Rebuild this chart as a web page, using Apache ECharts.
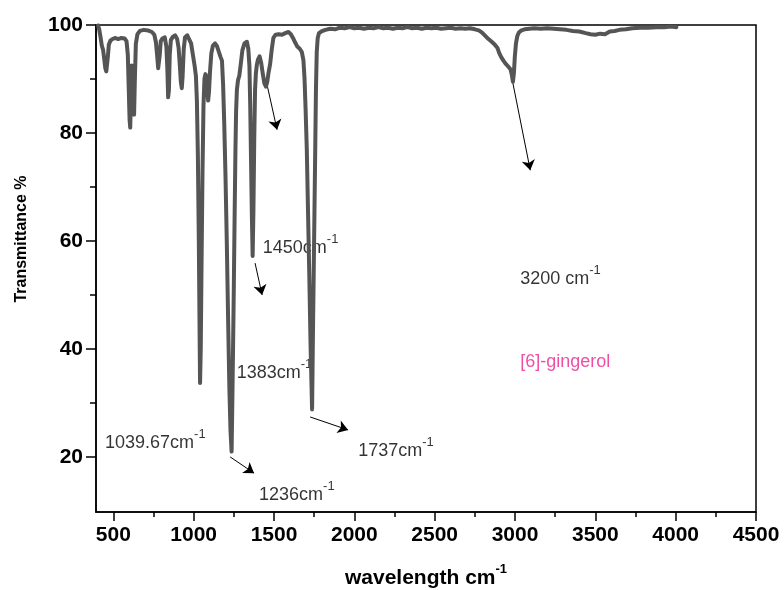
<!DOCTYPE html>
<html>
<head>
<meta charset="utf-8">
<script src="https://cdn.jsdelivr.net/npm/echarts@6/dist/echarts.min.js"></script>
<style>
  html, body { margin: 0; padding: 0; background: #ffffff; }
  #chart { width: 784px; height: 590px; }
</style>
</head>
<body>
<div id="chart"></div>
<script>
// FTIR spectrum of [6]-gingerol: wavenumber (cm-1) and transmittance (%)
const wavenumber = [
  405, 412, 420, 428, 436, 444, 450, 456, 461, 466, 472, 482, 495, 510, 530, 550, 570, 582, 590, 596,
  601, 605, 609, 614, 619, 624, 629, 634, 640, 650, 665, 690, 715, 740, 755, 765, 773, 779, 784, 789,
  795, 805, 820, 830, 836, 841, 846, 851, 858, 870, 884, 897, 906, 914, 920, 926, 931, 938, 946, 960,
  972, 984, 995, 1006, 1014, 1020, 1026, 1032, 1036, 1039.67, 1044, 1049, 1055, 1061, 1067, 1073, 1079, 1084, 1090, 1095,
  1102, 1110, 1120, 1133, 1145, 1157, 1167, 1176, 1183, 1190, 1198, 1206, 1214, 1222, 1229, 1236, 1240, 1245, 1250, 1255,
  1260, 1264, 1269, 1276, 1284, 1292, 1303, 1316, 1331, 1340, 1347, 1352, 1357, 1362, 1367, 1372, 1377, 1382, 1387, 1393,
  1400, 1410, 1420, 1430, 1440, 1450, 1458, 1466, 1476, 1486, 1496, 1510, 1530, 1550, 1570, 1590, 1605, 1618, 1631, 1645,
  1660, 1673, 1683, 1690, 1697, 1704, 1712, 1720, 1728, 1737, 1742, 1747, 1752, 1757, 1761, 1766, 1772, 1780, 1795, 1820,
  1850, 1880, 1910, 1940, 1970, 2000, 2030, 2060, 2090, 2120, 2150, 2180, 2210, 2240, 2270, 2300, 2330, 2360, 2390, 2420,
  2450, 2480, 2510, 2540, 2570, 2600, 2630, 2660, 2690, 2720, 2750, 2775, 2795, 2815, 2835, 2855, 2870, 2882, 2890, 2902,
  2915, 2928, 2940, 2952, 2963, 2972, 2980, 2987, 2993, 2999, 3006, 3014, 3024, 3040, 3060, 3090, 3120, 3160, 3200, 3240,
  3280, 3320, 3360, 3400, 3440, 3470, 3500, 3530, 3560, 3590, 3620, 3650, 3690, 3730, 3780, 3830, 3880, 3930, 3970, 4005
];
const transmittance = [
  99.9, 99.2, 97.8, 96.2, 95.4, 93.5, 92.0, 91.4, 91.6, 94.2, 96.4, 97.1, 97.4, 97.6, 97.4, 97.6, 97.5, 97.0, 94.5, 88.0,
  82.5, 81.0, 86.0, 92.5, 91.0, 86.0, 83.4, 90.0, 96.5, 98.3, 98.9, 99.1, 99.0, 98.7, 98.2, 96.8, 94.2, 92.0, 91.8, 94.5,
  97.0, 97.5, 97.7, 96.0, 92.0, 86.6, 88.0, 94.5, 97.2, 97.8, 98.1, 97.4, 95.8, 92.5, 89.5, 88.3, 90.5, 95.5, 97.7, 98.1,
  97.9, 96.6, 94.5, 92.4, 90.5, 86.0, 76.0, 60.0, 46.0, 33.7, 40.0, 56.0, 73.0, 85.0, 90.0, 90.9, 90.5, 88.4, 86.0, 87.5,
  91.5, 94.8, 96.2, 96.6, 96.1, 95.0, 94.1, 93.4, 89.0, 82.0, 72.0, 60.0, 46.0, 33.0, 25.0, 21.0, 29.0, 40.0, 52.0, 65.0,
  77.0, 84.0, 88.0, 89.8, 90.6, 92.5, 95.3, 96.6, 96.9, 95.6, 92.4, 85.0, 75.0, 65.0, 57.2, 66.0, 79.0, 88.0, 91.0, 92.6,
  93.6, 94.2, 93.0, 91.0, 89.2, 88.6, 89.5, 91.2, 92.8, 95.5, 97.6, 98.2, 98.3, 98.2, 98.5, 98.7, 98.3, 97.6, 96.8, 96.0,
  95.6, 95.0, 93.5, 90.0, 84.0, 77.0, 65.0, 53.0, 40.0, 28.8, 42.0, 54.0, 66.0, 78.0, 88.0, 95.0, 97.6, 98.5, 98.8, 99.1,
  99.3, 99.2, 99.5, 99.4, 99.6, 99.4, 99.5, 99.3, 99.5, 99.4, 99.6, 99.4, 99.5, 99.3, 99.5, 99.4, 99.6, 99.4, 99.5, 99.3,
  99.5, 99.4, 99.5, 99.3, 99.4, 99.5, 99.3, 99.4, 99.3, 99.4, 99.2, 99.0, 98.6, 98.0, 97.4, 96.9, 96.5, 96.3, 95.8, 94.8,
  94.0, 93.4, 92.9, 92.5, 92.2, 91.8, 90.8, 89.5, 91.0, 94.2, 96.6, 97.9, 98.6, 99.0, 99.2, 99.3, 99.4, 99.3, 99.4, 99.3,
  99.2, 99.1, 98.9, 98.8, 98.5, 98.3, 98.2, 98.4, 98.3, 98.8, 98.9, 99.1, 99.2, 99.4, 99.5, 99.5, 99.6, 99.6, 99.7, 99.6
];

// axis ticks
const xTickLabels = [500, 1000, 1500, 2000, 2500, 3000, 3500, 4000, 4500];
const xMinorTicks = [750, 1250, 1750, 2250, 2750, 3250, 3750, 4250];
const yTickLabels = [20, 40, 60, 80, 100];
const yMinorTicks = [30, 50, 70, 90];

// band annotations: text, superscript, anchor [wavenumber, transmittance]
const bandText = ['1039.67cm', '1236cm', '1383cm', '1450cm', '1737cm', '3200 cm', '[6]-gingerol'];
const bandSup = ['-1', '-1', '-1', '-1', '-1', '-1', ''];
const bandAnchor = [[448, 22.6], [1407, 13.0], [1268, 35.6], [1430, 58.7], [2024, 21.1], [3032, 52.9], [3032, 37.5]];

// pointer arrows: [from, to] in data units
const arrowFrom = [[1457, 88.9], [1382, 55.9], [1227, 20.0], [1725, 27.4], [2983, 89.8]];
const arrowTo = [[1519, 80.6], [1426, 50.0], [1376, 17.0], [1961, 25.0], [3095, 73.1]];

const X_MIN = 392, X_MAX = 4500, Y_MIN = 9.8, Y_MAX = 100;
const FONT = 'Arial, "Liberation Sans", sans-serif';

const spectrum = wavenumber.map((w, i) => [w, transmittance[i]]);
const annotations = bandText.map((t, i) => ({
  value: bandAnchor[i], text: t, sup: bandSup[i]
}));
const arrows = arrowFrom.map((f, i) => ({ coords: [f, arrowTo[i]] }));

const chart = echarts.init(document.getElementById('chart'), null, { renderer: 'canvas' });

chart.setOption({
  animation: false,
  backgroundColor: '#ffffff',
  grid: {
    left: 96, right: 28, top: 25, bottom: 78,
    outerBoundsMode: 'none', containLabel: false,
    show: true, borderColor: '#000', borderWidth: 1.5, backgroundColor: 'transparent'
  },
  xAxis: [
    {
      type: 'value', min: X_MIN, max: X_MAX, position: 'bottom',
      splitLine: { show: false },
      axisLine: { show: true, lineStyle: { color: '#000', width: 1.5 } },
      axisTick: { show: true, inside: false, length: 9, customValues: xTickLabels, lineStyle: { color: '#000', width: 1.5 } },
      axisLabel: {
        customValues: xTickLabels, margin: 13, color: '#000',
        formatter: v => String(v),
        fontFamily: FONT, fontWeight: 'bold', fontSize: 21
      },
      name: '{a|wavelength cm}{b|-1}',
      nameLocation: 'middle', nameGap: 51,
      nameTextStyle: {
        rich: {
          a: { fontFamily: FONT, fontWeight: 'bold', fontSize: 21, color: '#000', lineHeight: 30 },
          b: { fontFamily: FONT, fontWeight: 'bold', fontSize: 13, color: '#000', lineHeight: 12, verticalAlign: 'top' }
        }
      }
    },
    {
      type: 'value', min: X_MIN, max: X_MAX, position: 'bottom',
      splitLine: { show: false },
      axisLine: { show: false },
      axisTick: { show: true, inside: false, length: 5, customValues: xMinorTicks, lineStyle: { color: '#000', width: 1.5 } },
      axisLabel: { show: false }
    }
  ],
  yAxis: [
    {
      type: 'value', min: Y_MIN, max: Y_MAX, position: 'left',
      splitLine: { show: false },
      axisLine: { show: true, lineStyle: { color: '#000', width: 1.5 } },
      axisTick: { show: true, inside: false, length: 10, customValues: yTickLabels, lineStyle: { color: '#000', width: 1.5 } },
      axisLabel: {
        customValues: yTickLabels, margin: 13, color: '#000',
        formatter: v => String(v),
        fontFamily: FONT, fontWeight: 'bold', fontSize: 21
      }
    },
    {
      type: 'value', min: Y_MIN, max: Y_MAX, position: 'left',
      splitLine: { show: false },
      axisLine: { show: false },
      axisTick: { show: true, inside: false, length: 6, customValues: yMinorTicks, lineStyle: { color: '#000', width: 1.5 } },
      axisLabel: { show: false }
    }
  ],
  graphic: [{
    type: 'text',
    rotation: Math.PI / 2,
    x: 22, y: 239,
    style: {
      text: 'Transmittance %', fill: '#000',
      font: 'bold 16px ' + FONT,
      textAlign: 'center', textVerticalAlign: 'middle'
    }
  }],
  series: [
    {
      type: 'line', name: 'spectrum', data: spectrum,
      xAxisIndex: 0, yAxisIndex: 0,
      showSymbol: false, symbol: 'none',
      lineStyle: { color: '#555555', width: 4, cap: 'round', join: 'round' },
      emphasis: { disabled: true }, silent: true
    },
    {
      type: 'lines', coordinateSystem: 'cartesian2d',
      xAxisIndex: 0, yAxisIndex: 0,
      data: arrows,
      symbol: ['none', 'arrow'], symbolSize: 10,
      lineStyle: { color: '#000', width: 1, opacity: 1, curveness: 0 },
      silent: true
    },
    {
      type: 'scatter', data: annotations,
      xAxisIndex: 0, yAxisIndex: 0,
      symbolSize: 0, itemStyle: { color: 'transparent' },
      silent: true,
      label: {
        show: true, position: 'right', distance: 0, color: '#000',
        formatter: p => p.data.sup ? '{t|' + p.data.text + '}{s|' + p.data.sup + '}' : '{p|' + p.data.text + '}',
        rich: {
          t: { fontFamily: FONT, fontSize: 18, color: '#000', lineHeight: 30 },
          p: { fontFamily: FONT, fontSize: 18, color: '#e8238c', lineHeight: 30 },
          s: { fontFamily: FONT, fontSize: 13, color: '#000', lineHeight: 10, verticalAlign: 'top' }
        }
      }
    }
  ]
});
</script>
</body>
</html>
